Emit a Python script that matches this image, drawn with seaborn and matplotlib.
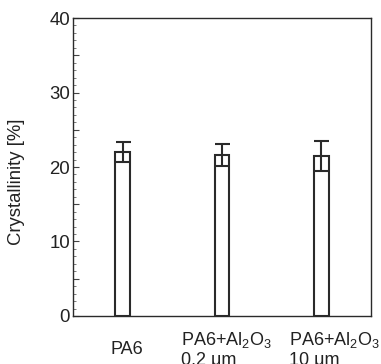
import numpy as np
import pandas as pd
import matplotlib
matplotlib.use("Agg")
import matplotlib.pyplot as plt
import matplotlib.transforms as mtransforms
from matplotlib.ticker import MultipleLocator, FuncFormatter
import seaborn as sns

categories = ["PA6", "PA6+Al$_2$O$_3$\n0.2 μm", "PA6+Al$_2$O$_3$\n10 μm"]
crystallinity = [22.0, 21.6, 21.5]
errors = [1.3, 1.5, 2.0]

sns.set_style("ticks")
plt.rcParams["font.family"] = ["Liberation Sans", "DejaVu Sans"]
plt.rcParams["mathtext.default"] = "regular"

df = pd.DataFrame({"cat": categories, "val": crystallinity})

fig = plt.figure(figsize=(3.81, 3.64), dpi=100)
ax = fig.add_axes([0.1916, 0.1319, 0.7822, 0.8186])

sns.barplot(data=df, x="cat", y="val", ax=ax, width=0.15, fill=False,
            color="#2a2a2a", linewidth=1.5, errorbar=None)
for p in ax.patches:
    p.set_edgecolor("#2a2a2a")
    p.set_linewidth(1.5)

ax.errorbar(np.arange(len(categories)), crystallinity, yerr=errors, fmt="none",
            ecolor="#2a2a2a", elinewidth=1.5, capsize=5.4, capthick=1.5)

ax.set_xlim(-0.5, 2.5)
ax.set_ylim(0, 40)
ax.yaxis.set_major_locator(MultipleLocator(5))
ax.yaxis.set_minor_locator(MultipleLocator(1))
ax.yaxis.set_major_formatter(FuncFormatter(lambda v, p: f"{int(v)}" if v % 10 == 0 else ""))
ax.tick_params(axis="y", which="major", direction="in", length=4, width=0.8,
               labelsize=13.4, labelcolor="#222222", color="#444444", pad=2)
ax.tick_params(axis="y", which="minor", direction="in", length=2, width=0.6, color="#666666")
ax.tick_params(axis="x", which="both", length=0, labelsize=13, labelcolor="#222222", pad=24)

for s in ax.spines.values():
    s.set_visible(True)
    s.set_color("#2a2a2a")
    s.set_linewidth(1.0)

ax.set_xlabel("")
ax.set_ylabel("Crystallinity [%]", fontsize=13.3, color="#222222")
ax.yaxis.set_label_coords(-0.16, 0.45)

offsets = [4, 4, 13]
for lbl, dx in zip(ax.get_xticklabels(), offsets):
    lbl.set_va("center")
    lbl.set_multialignment("left")
    lbl.set_linespacing(1.2)
    lbl.set_transform(lbl.get_transform() + mtransforms.ScaledTranslation(dx / 100, 0, fig.dpi_scale_trans))

fig.savefig("out.png", dpi=100)
